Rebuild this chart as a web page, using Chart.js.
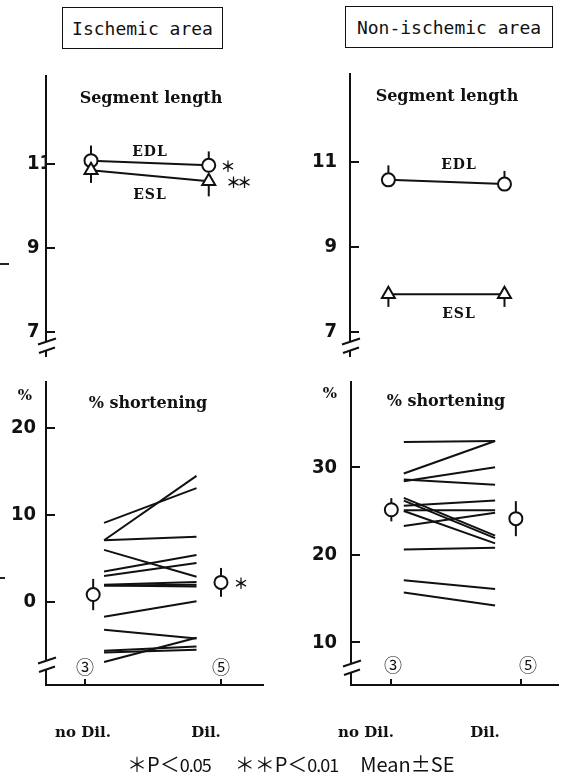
<!DOCTYPE html>
<html>
<head>
<meta charset="utf-8">
<script src="https://cdn.jsdelivr.net/npm/chart.js@4.4.1/dist/chart.umd.min.js"></script>
<style>
  html, body { margin: 0; padding: 0; background: #fff; }
  #page { position: relative; width: 566px; height: 772px; overflow: hidden; background: #fff; }
  #page canvas { position: absolute; left: 0; top: 0; }
  .title {
    position: absolute; box-sizing: border-box; border: 1.6px solid #111;
    display: flex; align-items: center; justify-content: center;
    font: 18px 'DejaVu Sans Mono', monospace; color: #111; white-space: nowrap;
  }
  .foot {
    position: absolute; left: 127px; top: 749px; white-space: nowrap;
    font: 20px 'Noto Sans CJK JP', sans-serif; color: #111;
  }
  .foot .n { letter-spacing: -1px; font-size: 18px; }
  .foot .g { display: inline-block; }
  .mark { position: absolute; height: 2px; background: #222; }
</style>
</head>
<body>
<div id="page">
  <div class="title" style="left:62px; top:7px; width:161px; height:42px;">Ischemic area</div>
  <div class="title" style="left:345px; top:6px; width:208px; height:42px;">Non-ischemic area</div>
  <canvas id="lenIsch" width="566" height="772"></canvas>
  <canvas id="lenNon" width="566" height="772"></canvas>
  <canvas id="shIsch" width="566" height="772"></canvas>
  <canvas id="shNon" width="566" height="772"></canvas>
  <div class="mark" style="left:0; top:263px; width:9px;"></div>
  <div class="mark" style="left:0; top:577px; width:5px;"></div>
  <div class="foot">＊P＜<span class="n">0.05</span><span class="g" style="width:24px"></span>＊＊P＜<span class="n">0.01</span><span class="g" style="width:22px"></span>Mean±SE</div>
</div>
<script>
// ---- data ----
const conditions = ['no Dil.', 'Dil.'];
const groupSizes = ['③', '⑤'];

// Segment length (mean, SE): ischemic area
const ischEDL   = [11.08, 10.97];
const ischEDLse = [0.36, 0.33];
const ischESL   = [10.85, 10.59];
const ischESLse = [0.30, 0.36];

// Segment length (mean, SE): non-ischemic area
const nonEDL   = [10.58, 10.48];
const nonEDLse = [0.34, 0.31];
const nonESL   = [7.89, 7.89];
const nonESLse = [0.30, 0.30];

// % shortening, individual segments: ischemic area
const ischShortNoDil = [9.1, 7.1, 7.1, 6.0, 3.5, 3.0, 2.0, 1.9, 1.9, -1.7, -3.2, -6.9, -5.6, -5.8];
const ischShortDil   = [13.1, 14.5, 7.5, 2.9, 5.4, 4.5, 2.3, 2.0, 1.8, 0.1, -4.2, -4.1, -5.1, -5.5];
const ischShortMean  = [0.86, 2.26];
const ischShortSE    = [1.8, 1.66];

// % shortening, individual segments: non-ischemic area
const nonShortNoDil = [32.9, 29.3, 28.4, 28.6, 26.5, 26.2, 25.0, 25.6, 25.1, 23.3, 20.6, 17.1, 15.7];
const nonShortDil   = [33.0, 33.0, 30.0, 28.0, 22.2, 21.9, 21.3, 26.2, 25.1, 24.8, 20.8, 16.1, 14.2];
const nonShortMean  = [25.15, 24.13];
const nonShortSE    = [1.33, 2.0];

// tick labels
const lengthTicks    = [7, 9, 11];
const ischShortTicks = [0, 10, 20];
const nonShortTicks  = [10, 20, 30];

// ---- drawing helpers ----
const INK = '#111';
const SERIF = "'DejaVu Serif', 'Liberation Serif', serif";
const NUM_FONT = { family: "'Liberation Sans Narrow', 'DejaVu Sans Condensed', sans-serif", size: 20, weight: 'bold' };
const CJK = "'Noto Sans CJK JP', sans-serif";

function setSpacing(ctx, px) {
  if ('letterSpacing' in ctx) ctx.letterSpacing = px + 'px';
}

// free text annotations (page pixel coordinates)
function notes(items) {
  return {
    id: 'notes',
    afterDraw(chart) {
      const ctx = chart.ctx;
      items.forEach(n => {
        ctx.save();
        ctx.font = n.font;
        ctx.fillStyle = INK;
        ctx.textAlign = n.align || 'center';
        ctx.textBaseline = 'middle';
        setSpacing(ctx, n.ls || 0);
        ctx.fillText(n.text, n.x, n.y);
        ctx.restore();
      });
    }
  };
}

// vertical SE whiskers behind the mean markers
function whiskers(bars) {
  return {
    id: 'whiskers',
    beforeDatasetsDraw(chart) {
      const ctx = chart.ctx, ys = chart.scales.y;
      bars.forEach(b => {
        const meta = chart.getDatasetMeta(b.dataset);
        const values = chart.data.datasets[b.dataset].data;
        meta.data.forEach((pt, i) => {
          const v = values[i].y, se = b.se[i];
          const top = ys.getPixelForValue(b.dir === 'down' ? v : v + se);
          const bot = ys.getPixelForValue(b.dir === 'up' ? v : v - se);
          ctx.save();
          ctx.strokeStyle = INK;
          ctx.lineWidth = 2;
          ctx.beginPath();
          ctx.moveTo(pt.x, top);
          ctx.lineTo(pt.x, bot);
          ctx.stroke();
          ctx.restore();
        });
      });
    }
  };
}

// broken-axis mark on the y axis
function axisBreak(yc) {
  return {
    id: 'axisBreak',
    afterDraw(chart) {
      const ctx = chart.ctx, ax = chart.chartArea.left;
      ctx.save();
      ctx.fillStyle = '#fff';
      ctx.fillRect(ax - 3, yc - 4, 6, 8);
      ctx.strokeStyle = INK;
      ctx.lineWidth = 2;
      ctx.beginPath();
      ctx.moveTo(ax - 8, yc - 1.5);
      ctx.lineTo(ax + 10, yc - 7.5);
      ctx.moveTo(ax - 7, yc + 7);
      ctx.lineTo(ax + 9, yc + 1.5);
      ctx.stroke();
      ctx.restore();
    }
  };
}

function yScale(min, max, ticks, width, opts) {
  return {
    type: 'linear', position: 'left', min, max,
    border: { display: true, color: INK, width: 2 },
    grid: { drawOnChartArea: false, drawTicks: true, tickLength: -9, color: INK, lineWidth: 2 },
    ticks: {
      color: INK, font: NUM_FONT, padding: opts.padding,
      crossAlign: opts.crossAlign || 'near'
    },
    afterBuildTicks: s => { s.ticks = ticks.map(v => ({ value: v })); },
    afterFit: s => { s.width = width; s.paddingTop = 0; s.paddingBottom = 0; }
  };
}

function xScale(min, max, show) {
  return {
    type: 'linear', position: 'bottom', min, max, display: show,
    border: { display: true, color: INK, width: 2 },
    grid: { drawOnChartArea: false, drawTicks: true, tickLength: -6, color: INK, lineWidth: 2 },
    ticks: { display: false },
    afterBuildTicks: s => { s.ticks = [0, 1].map(v => ({ value: v })); },
    afterFit: s => { s.height = 0; s.paddingLeft = 0; s.paddingRight = 0; }
  };
}

function baseOptions(padding, scales) {
  return {
    responsive: false, animation: false, events: [],
    layout: { padding },
    plugins: { legend: { display: false }, tooltip: { enabled: false } },
    scales
  };
}

const pairs = (xs, vals) => vals.map((v, i) => ({ x: xs[i], y: v }));

function meanSet(xs, vals, style, radius) {
  return {
    data: pairs(xs, vals), showLine: style.line, borderColor: INK, borderWidth: 2,
    pointStyle: style.point, pointRadius: radius, pointBackgroundColor: '#fff',
    pointBorderColor: INK, pointBorderWidth: 2
  };
}

function subjectSets(xs, starts, ends) {
  return starts.map((s, i) => ({
    data: [{ x: xs[0], y: s }, { x: xs[1], y: ends[i] }],
    showLine: true, borderColor: INK, borderWidth: 2, pointRadius: 0
  }));
}

// x ranges (0 = no Dil., 1 = Dil.)
const X_LEFT = [-0.287, 1.309];
const X_RIGHT = [-0.311, 1.281];

const LABEL_FONT = `bold 15px ${SERIF}`;
const COUNT_FONT = `18px ${CJK}`;

// ---- Segment length, ischemic ----
{
  const xs = [0.044, 0.91];
  new Chart(document.getElementById('lenIsch'), {
    type: 'scatter',
    data: { datasets: [
      meanSet(xs, ischESL, { line: true, point: 'triangle' }, 7.5),
      meanSet(xs, ischEDL, { line: true, point: 'circle' }, 6.5)
    ] },
    options: baseOptions({ left: 27, right: 303, top: 76, bottom: 772 - 356 }, {
      x: xScale(X_LEFT[0], X_LEFT[1], false),
      y: yScale(6.43, 13.095, lengthTicks, 19, { padding: 0, crossAlign: 'far' })
    }),
    plugins: [
      whiskers([{ dataset: 0, se: ischESLse, dir: 'down' }, { dataset: 1, se: ischEDLse, dir: 'up' }]),
      axisBreak(346),
      notes([
        { text: 'Segment length', x: 151, y: 99, font: `bold 16px ${SERIF}` },
        { text: 'EDL', x: 150, y: 152, font: `bold 14px ${SERIF}`, ls: 1 },
        { text: 'ESL', x: 150, y: 195, font: `bold 14px ${SERIF}`, ls: 1 },
        { text: '＊', x: 228, y: 166, font: `bold 15px ${CJK}` },
        { text: '＊＊', x: 237, y: 182, font: `bold 15px ${CJK}`, ls: -4 }
      ])
    ]
  });
}

// ---- Segment length, non-ischemic ----
{
  const xs = [-0.015, 0.88];
  new Chart(document.getElementById('lenNon'), {
    type: 'scatter',
    data: { datasets: [
      meanSet(xs, nonESL, { line: true, point: 'triangle' }, 7.5),
      meanSet(xs, nonEDL, { line: true, point: 'circle' }, 6.5)
    ] },
    options: baseOptions({ left: 0, right: 0, top: 74, bottom: 772 - 356 }, {
      x: xScale(X_RIGHT[0], X_RIGHT[1], false),
      y: yScale(6.435, 13.07, lengthTicks, 350, { padding: 22 })
    }),
    plugins: [
      whiskers([{ dataset: 0, se: nonESLse, dir: 'down' }, { dataset: 1, se: nonEDLse, dir: 'up' }]),
      axisBreak(346),
      notes([
        { text: 'Segment length', x: 447, y: 97, font: `bold 16px ${SERIF}` },
        { text: 'EDL', x: 459, y: 165, font: `bold 14px ${SERIF}`, ls: 1 },
        { text: 'ESL', x: 459, y: 314, font: `bold 14px ${SERIF}`, ls: 1 }
      ])
    ]
  });
}

// ---- % shortening, ischemic ----
{
  const meanX = [0.06, 1.0];
  const lineX = [0.14, 0.82];
  new Chart(document.getElementById('shIsch'), {
    type: 'scatter',
    data: { datasets: [
      meanSet(meanX, ischShortMean, { line: false, point: 'circle' }, 6.5),
      ...subjectSets(lineX, ischShortNoDil, ischShortDil)
    ] },
    options: baseOptions({ left: 0, right: 303, top: 382, bottom: 87 }, {
      x: xScale(X_LEFT[0], X_LEFT[1], true),
      y: yScale(-9.54, 25.3, ischShortTicks, 46, { padding: 19 })
    }),
    plugins: [
      whiskers([{ dataset: 0, se: ischShortSE, dir: 'both' }]),
      axisBreak(665),
      notes([
        { text: '%', x: 25, y: 396, font: `bold 15px ${SERIF}` },
        { text: '% shortening', x: 148, y: 404, font: `bold 16px ${SERIF}` },
        { text: groupSizes[0], x: 85, y: 667, font: COUNT_FONT },
        { text: groupSizes[1], x: 221, y: 667, font: COUNT_FONT },
        { text: '＊', x: 241, y: 583, font: `bold 15px ${CJK}` },
        { text: conditions[0], x: 83, y: 733, font: LABEL_FONT },
        { text: conditions[1], x: 206, y: 733, font: LABEL_FONT }
      ])
    ]
  });
}

// ---- % shortening, non-ischemic ----
{
  const meanX = [0.0, 0.96];
  const lineX = [0.096, 0.80];
  new Chart(document.getElementById('shNon'), {
    type: 'scatter',
    data: { datasets: [
      meanSet(meanX, nonShortMean, { line: false, point: 'circle' }, 6.5),
      ...subjectSets(lineX, nonShortNoDil, nonShortDil)
    ] },
    options: baseOptions({ left: 0, right: 0, top: 382, bottom: 87 }, {
      x: xScale(X_RIGHT[0], X_RIGHT[1], true),
      y: yScale(5.12, 39.75, nonShortTicks, 351, { padding: 23 })
    }),
    plugins: [
      whiskers([{ dataset: 0, se: nonShortSE, dir: 'both' }]),
      axisBreak(668),
      notes([
        { text: '%', x: 330, y: 394, font: `bold 15px ${SERIF}` },
        { text: '% shortening', x: 446, y: 402, font: `bold 16px ${SERIF}` },
        { text: groupSizes[0], x: 393, y: 665, font: COUNT_FONT },
        { text: groupSizes[1], x: 528, y: 665, font: COUNT_FONT },
        { text: conditions[0], x: 366, y: 733, font: LABEL_FONT },
        { text: conditions[1], x: 485, y: 733, font: LABEL_FONT }
      ])
    ]
  });
}
</script>
</body>
</html>
